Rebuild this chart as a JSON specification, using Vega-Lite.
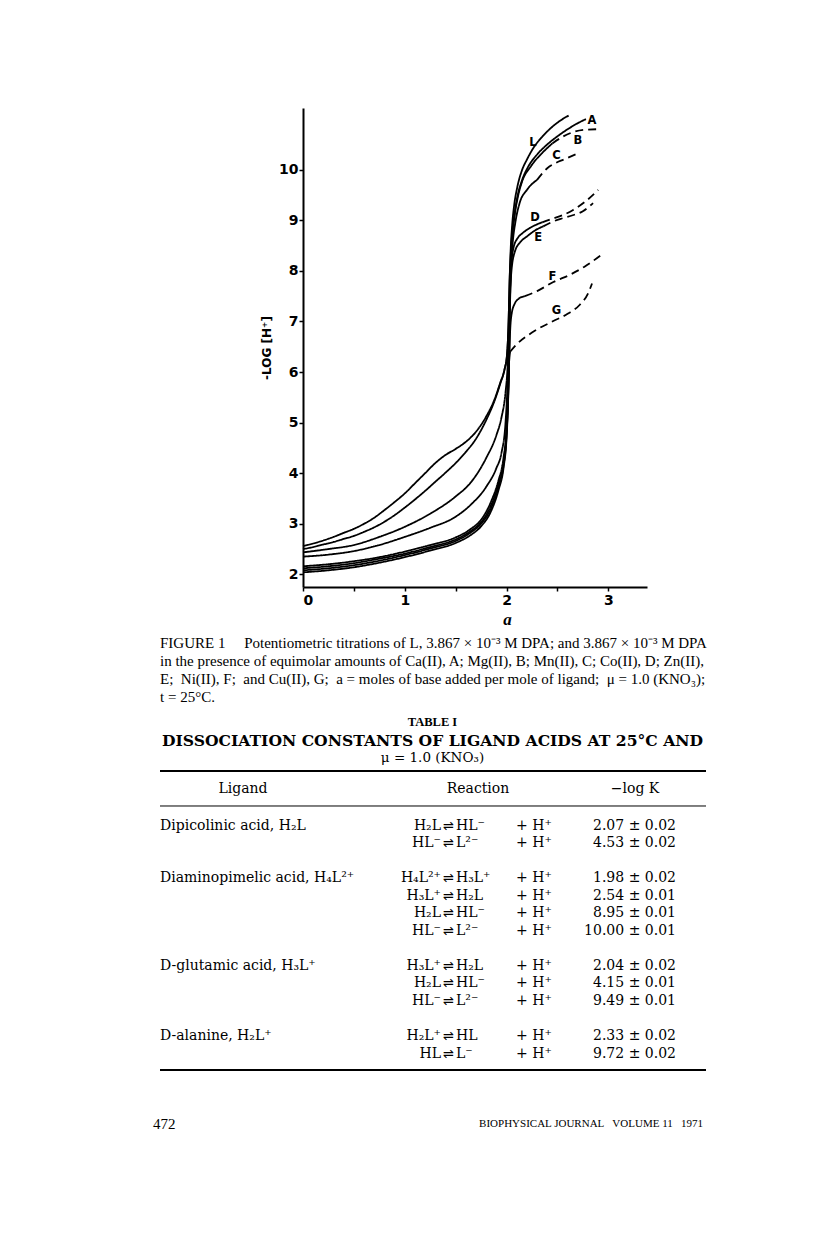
{
  "$schema": "https://vega.github.io/schema/vega-lite/v6.json",
  "background": "white",
  "autosize": {"type": "pad"},
  "padding": {"left": 153, "top": 108, "right": 0, "bottom": 0},
  "config": {"view": {"stroke": null}, "font": "Liberation Serif", "text": {"color": "black"}},
  "bounds": "flush",
  "center": true,
  "spacing": 40,
  "vconcat": [
    {
      "width": 344,
      "height": 479,
      "layer": [
        {
          "data": {"values": [
            {"curve":"L","trace":"measured","a":0,"pH":2.56},{"curve":"L","trace":"measured","a":0.1,"pH":2.61},{"curve":"L","trace":"measured","a":0.2,"pH":2.67},{"curve":"L","trace":"measured","a":0.3,"pH":2.74},{"curve":"L","trace":"measured","a":0.4,"pH":2.82},{"curve":"L","trace":"measured","a":0.5,"pH":2.9},{"curve":"L","trace":"measured","a":0.6,"pH":3.0},{"curve":"L","trace":"measured","a":0.7,"pH":3.12},{"curve":"L","trace":"measured","a":0.8,"pH":3.27},{"curve":"L","trace":"measured","a":0.9,"pH":3.43},{"curve":"L","trace":"measured","a":1.0,"pH":3.6},{"curve":"L","trace":"measured","a":1.1,"pH":3.8},{"curve":"L","trace":"measured","a":1.2,"pH":4.0},{"curve":"L","trace":"measured","a":1.3,"pH":4.2},{"curve":"L","trace":"measured","a":1.4,"pH":4.36},{"curve":"L","trace":"measured","a":1.5,"pH":4.48},{"curve":"L","trace":"measured","a":1.6,"pH":4.62},{"curve":"L","trace":"measured","a":1.7,"pH":4.82},{"curve":"L","trace":"measured","a":1.8,"pH":5.12},{"curve":"L","trace":"measured","a":1.88,"pH":5.45},{"curve":"L","trace":"measured","a":1.94,"pH":5.8},{"curve":"L","trace":"measured","a":1.98,"pH":6.05},{"curve":"L","trace":"measured","a":2.005,"pH":6.35},{"curve":"L","trace":"measured","a":2.02,"pH":7.0},{"curve":"L","trace":"measured","a":2.03,"pH":7.8},{"curve":"L","trace":"measured","a":2.04,"pH":8.4},{"curve":"L","trace":"measured","a":2.055,"pH":8.9},{"curve":"L","trace":"measured","a":2.075,"pH":9.3},{"curve":"L","trace":"measured","a":2.105,"pH":9.65},{"curve":"L","trace":"measured","a":2.15,"pH":9.98},{"curve":"L","trace":"measured","a":2.2,"pH":10.2},{"curve":"L","trace":"measured","a":2.27,"pH":10.45},{"curve":"L","trace":"measured","a":2.35,"pH":10.65},{"curve":"L","trace":"measured","a":2.45,"pH":10.85},{"curve":"L","trace":"measured","a":2.55,"pH":11.0},{"curve":"L","trace":"measured","a":2.61,"pH":11.07},

            {"curve":"A","trace":"measured","a":0,"pH":2.5},{"curve":"A","trace":"measured","a":0.1,"pH":2.54},{"curve":"A","trace":"measured","a":0.2,"pH":2.59},{"curve":"A","trace":"measured","a":0.3,"pH":2.64},{"curve":"A","trace":"measured","a":0.4,"pH":2.7},{"curve":"A","trace":"measured","a":0.5,"pH":2.76},{"curve":"A","trace":"measured","a":0.6,"pH":2.84},{"curve":"A","trace":"measured","a":0.7,"pH":2.93},{"curve":"A","trace":"measured","a":0.8,"pH":3.04},{"curve":"A","trace":"measured","a":0.9,"pH":3.17},{"curve":"A","trace":"measured","a":1.0,"pH":3.32},{"curve":"A","trace":"measured","a":1.1,"pH":3.48},{"curve":"A","trace":"measured","a":1.2,"pH":3.65},{"curve":"A","trace":"measured","a":1.3,"pH":3.83},{"curve":"A","trace":"measured","a":1.4,"pH":4.01},{"curve":"A","trace":"measured","a":1.5,"pH":4.2},{"curve":"A","trace":"measured","a":1.6,"pH":4.42},{"curve":"A","trace":"measured","a":1.7,"pH":4.68},{"curve":"A","trace":"measured","a":1.8,"pH":5.05},{"curve":"A","trace":"measured","a":1.88,"pH":5.42},{"curve":"A","trace":"measured","a":1.94,"pH":5.78},{"curve":"A","trace":"measured","a":1.98,"pH":6.05},{"curve":"A","trace":"measured","a":2.005,"pH":6.35},{"curve":"A","trace":"measured","a":2.02,"pH":7.0},{"curve":"A","trace":"measured","a":2.03,"pH":7.8},{"curve":"A","trace":"measured","a":2.042,"pH":8.35},{"curve":"A","trace":"measured","a":2.058,"pH":8.8},{"curve":"A","trace":"measured","a":2.08,"pH":9.15},{"curve":"A","trace":"measured","a":2.11,"pH":9.5},{"curve":"A","trace":"measured","a":2.15,"pH":9.78},{"curve":"A","trace":"measured","a":2.21,"pH":10.05},{"curve":"A","trace":"measured","a":2.3,"pH":10.3},{"curve":"A","trace":"measured","a":2.4,"pH":10.5},{"curve":"A","trace":"measured","a":2.5,"pH":10.66},{"curve":"A","trace":"measured","a":2.6,"pH":10.8},{"curve":"A","trace":"measured","a":2.7,"pH":10.92},{"curve":"A","trace":"measured","a":2.78,"pH":11.0},

            {"curve":"B","trace":"measured","a":0,"pH":2.435},{"curve":"B","trace":"measured","a":0.25,"pH":2.5},{"curve":"B","trace":"measured","a":0.5,"pH":2.58},{"curve":"B","trace":"measured","a":0.75,"pH":2.74},{"curve":"B","trace":"measured","a":1.0,"pH":2.94},{"curve":"B","trace":"measured","a":1.25,"pH":3.2},{"curve":"B","trace":"measured","a":1.5,"pH":3.54},{"curve":"B","trace":"measured","a":1.65,"pH":3.82},{"curve":"B","trace":"measured","a":1.8,"pH":4.3},{"curve":"B","trace":"measured","a":1.9,"pH":4.75},{"curve":"B","trace":"measured","a":1.95,"pH":5.1},{"curve":"B","trace":"measured","a":1.99,"pH":5.6},{"curve":"B","trace":"measured","a":2.01,"pH":6.1},{"curve":"B","trace":"measured","a":2.02,"pH":6.6},{"curve":"B","trace":"measured","a":2.03,"pH":7.3},{"curve":"B","trace":"measured","a":2.04,"pH":8.0},{"curve":"B","trace":"measured","a":2.055,"pH":8.6},{"curve":"B","trace":"measured","a":2.08,"pH":9.1},{"curve":"B","trace":"measured","a":2.11,"pH":9.45},{"curve":"B","trace":"measured","a":2.15,"pH":9.75},{"curve":"B","trace":"measured","a":2.24,"pH":10.07},{"curve":"B","trace":"measured","a":2.35,"pH":10.33},{"curve":"B","trace":"measured","a":2.45,"pH":10.52},
            {"curve":"B","trace":"extrapolated","a":2.45,"pH":10.52},{"curve":"B","trace":"extrapolated","a":2.55,"pH":10.65},{"curve":"B","trace":"extrapolated","a":2.65,"pH":10.74},{"curve":"B","trace":"extrapolated","a":2.77,"pH":10.79},{"curve":"B","trace":"extrapolated","a":2.89,"pH":10.8},

            {"curve":"C","trace":"measured","a":0,"pH":2.35},{"curve":"C","trace":"measured","a":0.25,"pH":2.39},{"curve":"C","trace":"measured","a":0.5,"pH":2.46},{"curve":"C","trace":"measured","a":0.75,"pH":2.58},{"curve":"C","trace":"measured","a":1.0,"pH":2.74},{"curve":"C","trace":"measured","a":1.25,"pH":2.92},{"curve":"C","trace":"measured","a":1.5,"pH":3.14},{"curve":"C","trace":"measured","a":1.65,"pH":3.38},{"curve":"C","trace":"measured","a":1.8,"pH":3.73},{"curve":"C","trace":"measured","a":1.9,"pH":4.1},{"curve":"C","trace":"measured","a":1.95,"pH":4.4},{"curve":"C","trace":"measured","a":1.99,"pH":5.0},{"curve":"C","trace":"measured","a":2.01,"pH":5.8},{"curve":"C","trace":"measured","a":2.02,"pH":6.5},{"curve":"C","trace":"measured","a":2.03,"pH":7.3},{"curve":"C","trace":"measured","a":2.04,"pH":8.0},{"curve":"C","trace":"measured","a":2.06,"pH":8.55},{"curve":"C","trace":"measured","a":2.09,"pH":9.0},{"curve":"C","trace":"measured","a":2.13,"pH":9.35},{"curve":"C","trace":"measured","a":2.2,"pH":9.6},{"curve":"C","trace":"measured","a":2.3,"pH":9.8},
            {"curve":"C","trace":"extrapolated","a":2.3,"pH":9.8},{"curve":"C","trace":"extrapolated","a":2.4,"pH":10.03},{"curve":"C","trace":"extrapolated","a":2.48,"pH":10.13},{"curve":"C","trace":"extrapolated","a":2.56,"pH":10.2},{"curve":"C","trace":"extrapolated","a":2.71,"pH":10.33},

            {"curve":"D","trace":"measured","a":0,"pH":2.16},{"curve":"D","trace":"measured","a":0.25,"pH":2.2},{"curve":"D","trace":"measured","a":0.5,"pH":2.26},{"curve":"D","trace":"measured","a":0.75,"pH":2.34},{"curve":"D","trace":"measured","a":1.0,"pH":2.45},{"curve":"D","trace":"measured","a":1.25,"pH":2.58},{"curve":"D","trace":"measured","a":1.5,"pH":2.73},{"curve":"D","trace":"measured","a":1.65,"pH":2.9},{"curve":"D","trace":"measured","a":1.75,"pH":3.08},{"curve":"D","trace":"measured","a":1.85,"pH":3.45},{"curve":"D","trace":"measured","a":1.92,"pH":3.85},{"curve":"D","trace":"measured","a":1.97,"pH":4.3},{"curve":"D","trace":"measured","a":2.0,"pH":4.9},{"curve":"D","trace":"measured","a":2.015,"pH":5.6},{"curve":"D","trace":"measured","a":2.025,"pH":6.3},{"curve":"D","trace":"measured","a":2.03,"pH":7.0},{"curve":"D","trace":"measured","a":2.036,"pH":7.6},{"curve":"D","trace":"measured","a":2.046,"pH":8.1},{"curve":"D","trace":"measured","a":2.07,"pH":8.47},{"curve":"D","trace":"measured","a":2.11,"pH":8.65},{"curve":"D","trace":"measured","a":2.16,"pH":8.75},{"curve":"D","trace":"measured","a":2.23,"pH":8.85},{"curve":"D","trace":"measured","a":2.3,"pH":8.92},{"curve":"D","trace":"measured","a":2.35,"pH":8.96},
            {"curve":"D","trace":"extrapolated","a":2.35,"pH":8.96},{"curve":"D","trace":"extrapolated","a":2.45,"pH":9.03},{"curve":"D","trace":"extrapolated","a":2.55,"pH":9.1},{"curve":"D","trace":"extrapolated","a":2.65,"pH":9.2},{"curve":"D","trace":"extrapolated","a":2.78,"pH":9.38},{"curve":"D","trace":"extrapolated","a":2.9,"pH":9.6},

            {"curve":"E","trace":"measured","a":0,"pH":2.12},{"curve":"E","trace":"measured","a":0.25,"pH":2.16},{"curve":"E","trace":"measured","a":0.5,"pH":2.22},{"curve":"E","trace":"measured","a":0.75,"pH":2.31},{"curve":"E","trace":"measured","a":1.0,"pH":2.41},{"curve":"E","trace":"measured","a":1.25,"pH":2.54},{"curve":"E","trace":"measured","a":1.5,"pH":2.69},{"curve":"E","trace":"measured","a":1.65,"pH":2.86},{"curve":"E","trace":"measured","a":1.75,"pH":3.03},{"curve":"E","trace":"measured","a":1.85,"pH":3.38},{"curve":"E","trace":"measured","a":1.92,"pH":3.78},{"curve":"E","trace":"measured","a":1.97,"pH":4.2},{"curve":"E","trace":"measured","a":2.0,"pH":4.8},{"curve":"E","trace":"measured","a":2.015,"pH":5.5},{"curve":"E","trace":"measured","a":2.025,"pH":6.3},{"curve":"E","trace":"measured","a":2.03,"pH":7.0},{"curve":"E","trace":"measured","a":2.036,"pH":7.5},{"curve":"E","trace":"measured","a":2.046,"pH":7.95},{"curve":"E","trace":"measured","a":2.08,"pH":8.37},{"curve":"E","trace":"measured","a":2.14,"pH":8.58},{"curve":"E","trace":"measured","a":2.2,"pH":8.68},{"curve":"E","trace":"measured","a":2.28,"pH":8.8},{"curve":"E","trace":"measured","a":2.36,"pH":8.88},
            {"curve":"E","trace":"extrapolated","a":2.36,"pH":8.88},{"curve":"E","trace":"extrapolated","a":2.45,"pH":8.97},{"curve":"E","trace":"extrapolated","a":2.55,"pH":9.04},{"curve":"E","trace":"extrapolated","a":2.65,"pH":9.1},{"curve":"E","trace":"extrapolated","a":2.75,"pH":9.18},{"curve":"E","trace":"extrapolated","a":2.85,"pH":9.34},

            {"curve":"F","trace":"measured","a":0,"pH":2.08},{"curve":"F","trace":"measured","a":0.25,"pH":2.12},{"curve":"F","trace":"measured","a":0.5,"pH":2.18},{"curve":"F","trace":"measured","a":0.75,"pH":2.27},{"curve":"F","trace":"measured","a":1.0,"pH":2.38},{"curve":"F","trace":"measured","a":1.25,"pH":2.51},{"curve":"F","trace":"measured","a":1.5,"pH":2.66},{"curve":"F","trace":"measured","a":1.65,"pH":2.83},{"curve":"F","trace":"measured","a":1.75,"pH":3.0},{"curve":"F","trace":"measured","a":1.85,"pH":3.32},{"curve":"F","trace":"measured","a":1.92,"pH":3.72},{"curve":"F","trace":"measured","a":1.97,"pH":4.15},{"curve":"F","trace":"measured","a":2.0,"pH":4.75},{"curve":"F","trace":"measured","a":2.015,"pH":5.45},{"curve":"F","trace":"measured","a":2.025,"pH":6.2},{"curve":"F","trace":"measured","a":2.035,"pH":6.8},{"curve":"F","trace":"measured","a":2.05,"pH":7.15},{"curve":"F","trace":"measured","a":2.08,"pH":7.35},{"curve":"F","trace":"measured","a":2.12,"pH":7.45},{"curve":"F","trace":"measured","a":2.18,"pH":7.5},
            {"curve":"F","trace":"extrapolated","a":2.18,"pH":7.5},{"curve":"F","trace":"extrapolated","a":2.3,"pH":7.6},{"curve":"F","trace":"extrapolated","a":2.46,"pH":7.78},{"curve":"F","trace":"extrapolated","a":2.62,"pH":7.92},{"curve":"F","trace":"extrapolated","a":2.78,"pH":8.1},{"curve":"F","trace":"extrapolated","a":2.92,"pH":8.3},

            {"curve":"G","trace":"measured","a":0,"pH":2.04},{"curve":"G","trace":"measured","a":0.25,"pH":2.08},{"curve":"G","trace":"measured","a":0.5,"pH":2.14},{"curve":"G","trace":"measured","a":0.75,"pH":2.23},{"curve":"G","trace":"measured","a":1.0,"pH":2.34},{"curve":"G","trace":"measured","a":1.25,"pH":2.47},{"curve":"G","trace":"measured","a":1.5,"pH":2.62},{"curve":"G","trace":"measured","a":1.65,"pH":2.78},{"curve":"G","trace":"measured","a":1.75,"pH":2.95},{"curve":"G","trace":"measured","a":1.85,"pH":3.26},{"curve":"G","trace":"measured","a":1.92,"pH":3.66},{"curve":"G","trace":"measured","a":1.97,"pH":4.1},{"curve":"G","trace":"measured","a":2.0,"pH":4.7},{"curve":"G","trace":"measured","a":2.015,"pH":5.4},{"curve":"G","trace":"measured","a":2.025,"pH":6.2},{"curve":"G","trace":"measured","a":2.035,"pH":6.4},
            {"curve":"G","trace":"extrapolated","a":2.035,"pH":6.4},{"curve":"G","trace":"extrapolated","a":2.1,"pH":6.55},{"curve":"G","trace":"extrapolated","a":2.25,"pH":6.78},{"curve":"G","trace":"extrapolated","a":2.45,"pH":7.0},{"curve":"G","trace":"extrapolated","a":2.6,"pH":7.15},{"curve":"G","trace":"extrapolated","a":2.72,"pH":7.33},{"curve":"G","trace":"extrapolated","a":2.8,"pH":7.55},{"curve":"G","trace":"extrapolated","a":2.84,"pH":7.75}
          ]},
          "mark": {"type": "line", "interpolate": "monotone", "strokeWidth": 1.8, "color": "black"},
          "encoding": {
            "x": {
              "field": "a", "type": "quantitative",
              "scale": {"domain": [0, 3.38], "nice": false, "zero": false},
              "axis": {
                "title": "a", "titleFont": "Liberation Serif", "titleFontStyle": "italic", "titleFontWeight": "bold", "titleFontSize": 17, "titleColor": "black", "titleX": 204, "titlePadding": 4,
                "values": [0, 0.5, 1, 1.5, 2, 2.5, 3],
                "labelExpr": "datum.value % 1 === 0 ? format(datum.value, 'd') : ''",
                "labelFont": "DejaVu Sans", "labelFontWeight": "bold", "labelFontSize": 14, "labelColor": "black", "labelPadding": 2,
                "domainColor": "black", "domainWidth": 2, "tickColor": "black", "tickWidth": 1.5, "tickSize": 4, "grid": false,
                "encode": {"ticks": {"update": {"y": {"value": -4}, "y2": {"signal": "datum.value % 1 === 0 ? 4 : 0"}, "opacity": {"signal": "datum.value === 0 ? 0 : 1"}}}}
              }
            },
            "y": {
              "field": "pH", "type": "quantitative",
              "scale": {"domain": [1.75, 11.22], "nice": false, "zero": false},
              "axis": {
                "title": "-LOG  [H⁺]", "titleFont": "DejaVu Sans", "titleFontWeight": "bold", "titleFontSize": 12, "titleColor": "black", "titlePadding": 5,
                "values": [2, 3, 4, 5, 6, 7, 8, 9, 10], "format": "d",
                "labelFont": "DejaVu Sans", "labelFontWeight": "bold", "labelFontSize": 14, "labelColor": "black", "labelPadding": 1,
                "domainColor": "black", "domainWidth": 2, "tickColor": "black", "tickWidth": 1.5, "tickSize": 4, "grid": false,
                "encode": {"ticks": {"update": {"x": {"value": 4}, "x2": {"value": -4}}}}
              }
            },
            "detail": {"field": "curve", "type": "nominal"},
            "strokeDash": {"field": "trace", "type": "nominal", "scale": {"domain": ["measured", "extrapolated"], "range": [[1, 0], [8, 5]]}, "legend": null}
          }
        },
        {
          "data": {"values": [
            {"label": "L", "a": 2.26, "pH": 10.53},
            {"label": "A", "a": 2.84, "pH": 10.97},
            {"label": "B", "a": 2.70, "pH": 10.57},
            {"label": "C", "a": 2.49, "pH": 10.28},
            {"label": "D", "a": 2.28, "pH": 9.05},
            {"label": "E", "a": 2.31, "pH": 8.65},
            {"label": "F", "a": 2.45, "pH": 7.88},
            {"label": "G", "a": 2.49, "pH": 7.21}
          ]},
          "mark": {"type": "text", "font": "DejaVu Sans", "fontWeight": "bold", "fontSize": 11.5, "color": "black"},
          "encoding": {
            "x": {"field": "a", "type": "quantitative"},
            "y": {"field": "pH", "type": "quantitative"},
            "text": {"field": "label"}
          }
        }
      ]
    },
    {
      "width": 644,
      "height": 508,
      "layer": [
        {
          "data": {"values": [
            {"line": -10.46, "text": "FIGURE 1\u00a0\u00a0\u00a0\u00a0 Potentiometric titrations of L, 3.867 × 10⁻³ M DPA; and 3.867 × 10⁻³ M DPA"},
            {"line": -9.43, "text": "in the presence of equimolar amounts of Ca(II), A; Mg(II), B; Mn(II), C; Co(II), D; Zn(II),"},
            {"line": -8.40, "text": "E;\u00a0 Ni(II), F;\u00a0 and Cu(II), G;\u00a0 a = moles of base added per mole of ligand;\u00a0 μ = 1.0 (KNO₃);"},
            {"line": -7.37, "text": "t = 25°C."}
          ]},
          "mark": {"type": "text", "align": "left", "baseline": "middle", "fontSize": 15, "font": "Liberation Serif"},
          "encoding": {
            "x": {"datum": 7, "type": "quantitative", "scale": {"domain": [0, 644], "nice": false, "zero": false}, "axis": null},
            "y": {"field": "line", "type": "quantitative", "scale": {"domain": [-11.371, 17.657], "nice": false, "zero": false, "reverse": true}, "axis": null},
            "text": {"field": "text"}
          }
        },
        {
          "data": {"values": [{"line": -5.94, "text": "TABLE I"}]},
          "mark": {"type": "text", "align": "center", "baseline": "middle", "font": "Liberation Serif", "fontWeight": "bold", "fontSize": 12.5},
          "encoding": {
            "x": {"datum": 279.5, "type": "quantitative"},
            "y": {"field": "line", "type": "quantitative"},
            "text": {"field": "text"}
          }
        },
        {
          "data": {"values": [{"line": -4.857, "text": "DISSOCIATION CONSTANTS OF LIGAND ACIDS AT 25°C AND"}]},
          "mark": {"type": "text", "align": "center", "baseline": "middle", "font": "DejaVu Serif", "fontWeight": "bold", "fontSize": 15.6},
          "encoding": {
            "x": {"datum": 279.5, "type": "quantitative"},
            "y": {"field": "line", "type": "quantitative"},
            "text": {"field": "text"}
          }
        },
        {
          "data": {"values": [{"line": -3.886, "text": "μ = 1.0 (KNO₃)"}]},
          "mark": {"type": "text", "align": "center", "baseline": "middle", "font": "DejaVu Serif", "fontSize": 13.5},
          "encoding": {
            "x": {"datum": 279.5, "type": "quantitative"},
            "y": {"field": "line", "type": "quantitative"},
            "text": {"field": "text"}
          }
        },
        {
          "data": {"values": [{"line": -3.143}, {"line": 13.94}]},
          "mark": {"type": "rule", "strokeWidth": 2, "color": "black"},
          "encoding": {
            "x": {"datum": 7, "type": "quantitative"},
            "x2": {"datum": 553},
            "y": {"field": "line", "type": "quantitative"}
          }
        },
        {
          "data": {"values": [{"line": -1.143}]},
          "mark": {"type": "rule", "strokeWidth": 1, "color": "black"},
          "encoding": {
            "x": {"datum": 7, "type": "quantitative"},
            "x2": {"datum": 553},
            "y": {"field": "line", "type": "quantitative"}
          }
        },
        {
          "data": {"values": [{"line": -2.114, "text": "Ligand"}]},
          "mark": {"type": "text", "align": "center", "baseline": "middle", "font": "DejaVu Serif", "fontSize": 14},
          "encoding": {
            "x": {"datum": 90, "type": "quantitative"},
            "y": {"field": "line", "type": "quantitative"},
            "text": {"field": "text"}
          }
        },
        {
          "data": {"values": [{"line": -2.114, "text": "Reaction"}]},
          "mark": {"type": "text", "align": "center", "baseline": "middle", "font": "DejaVu Serif", "fontSize": 14},
          "encoding": {
            "x": {"datum": 325, "type": "quantitative"},
            "y": {"field": "line", "type": "quantitative"},
            "text": {"field": "text"}
          }
        },
        {
          "data": {"values": [{"line": -2.114, "text": "−log K"}]},
          "mark": {"type": "text", "align": "center", "baseline": "middle", "font": "DejaVu Serif", "fontSize": 14},
          "encoding": {
            "x": {"datum": 482, "type": "quantitative"},
            "y": {"field": "line", "type": "quantitative"},
            "text": {"field": "text"}
          }
        },
        {
          "data": {"name": "body", "values": [
            {"line": 0, "ligand": "Dipicolinic acid, H₂L", "lhs": "H₂L", "rhs": "HL⁻", "logK": "2.07 ± 0.02"},
            {"line": 1, "ligand": "", "lhs": "HL⁻", "rhs": "L²⁻", "logK": "4.53 ± 0.02"},
            {"line": 3, "ligand": "Diaminopimelic acid, H₄L²⁺", "lhs": "H₄L²⁺", "rhs": "H₃L⁺", "logK": "1.98 ± 0.02"},
            {"line": 4, "ligand": "", "lhs": "H₃L⁺", "rhs": "H₂L", "logK": "2.54 ± 0.01"},
            {"line": 5, "ligand": "", "lhs": "H₂L", "rhs": "HL⁻", "logK": "8.95 ± 0.01"},
            {"line": 6, "ligand": "", "lhs": "HL⁻", "rhs": "L²⁻", "logK": "10.00 ± 0.01"},
            {"line": 8, "ligand": "D-glutamic acid, H₃L⁺", "lhs": "H₃L⁺", "rhs": "H₂L", "logK": "2.04 ± 0.02"},
            {"line": 9, "ligand": "", "lhs": "H₂L", "rhs": "HL⁻", "logK": "4.15 ± 0.01"},
            {"line": 10, "ligand": "", "lhs": "HL⁻", "rhs": "L²⁻", "logK": "9.49 ± 0.01"},
            {"line": 12, "ligand": "D-alanine, H₂L⁺", "lhs": "H₂L⁺", "rhs": "HL", "logK": "2.33 ± 0.02"},
            {"line": 13, "ligand": "", "lhs": "HL", "rhs": "L⁻", "logK": "9.72 ± 0.02"}
          ]},
          "mark": {"type": "text", "align": "left", "baseline": "middle", "font": "DejaVu Serif", "fontSize": 14},
          "encoding": {
            "x": {"datum": 7, "type": "quantitative"},
            "y": {"field": "line", "type": "quantitative"},
            "text": {"field": "ligand"}
          }
        },
        {
          "data": {"name": "body"},
          "mark": {"type": "text", "align": "right", "baseline": "middle", "font": "DejaVu Serif", "fontSize": 14},
          "encoding": {
            "x": {"datum": 288, "type": "quantitative"},
            "y": {"field": "line", "type": "quantitative"},
            "text": {"field": "lhs"}
          }
        },
        {
          "data": {"name": "body"},
          "mark": {"type": "text", "align": "center", "baseline": "middle", "font": "DejaVu Sans", "fontSize": 13, "text": "⇌"},
          "encoding": {
            "x": {"datum": 295.5, "type": "quantitative"},
            "y": {"field": "line", "type": "quantitative"}
          }
        },
        {
          "data": {"name": "body"},
          "mark": {"type": "text", "align": "left", "baseline": "middle", "font": "DejaVu Serif", "fontSize": 14},
          "encoding": {
            "x": {"datum": 303, "type": "quantitative"},
            "y": {"field": "line", "type": "quantitative"},
            "text": {"field": "rhs"}
          }
        },
        {
          "data": {"name": "body"},
          "mark": {"type": "text", "align": "left", "baseline": "middle", "font": "DejaVu Serif", "fontSize": 14, "text": "+ H⁺"},
          "encoding": {
            "x": {"datum": 363, "type": "quantitative"},
            "y": {"field": "line", "type": "quantitative"}
          }
        },
        {
          "data": {"name": "body"},
          "mark": {"type": "text", "align": "right", "baseline": "middle", "font": "DejaVu Serif", "fontSize": 14},
          "encoding": {
            "x": {"datum": 523, "type": "quantitative"},
            "y": {"field": "line", "type": "quantitative"},
            "text": {"field": "logK"}
          }
        },
        {
          "data": {"values": [{"line": 17.03, "text": "472"}]},
          "mark": {"type": "text", "align": "left", "baseline": "middle", "font": "Liberation Serif", "fontSize": 15},
          "encoding": {
            "x": {"datum": 0, "type": "quantitative"},
            "y": {"field": "line", "type": "quantitative"},
            "text": {"field": "text"}
          }
        },
        {
          "data": {"values": [{"line": 17.03, "text": "BIOPHYSICAL JOURNAL\u00a0\u00a0 VOLUME 11\u00a0\u00a0 1971"}]},
          "mark": {"type": "text", "align": "right", "baseline": "middle", "font": "Liberation Serif", "fontSize": 11},
          "encoding": {
            "x": {"datum": 550, "type": "quantitative"},
            "y": {"field": "line", "type": "quantitative"},
            "text": {"field": "text"}
          }
        }
      ]
    }
  ]
}
